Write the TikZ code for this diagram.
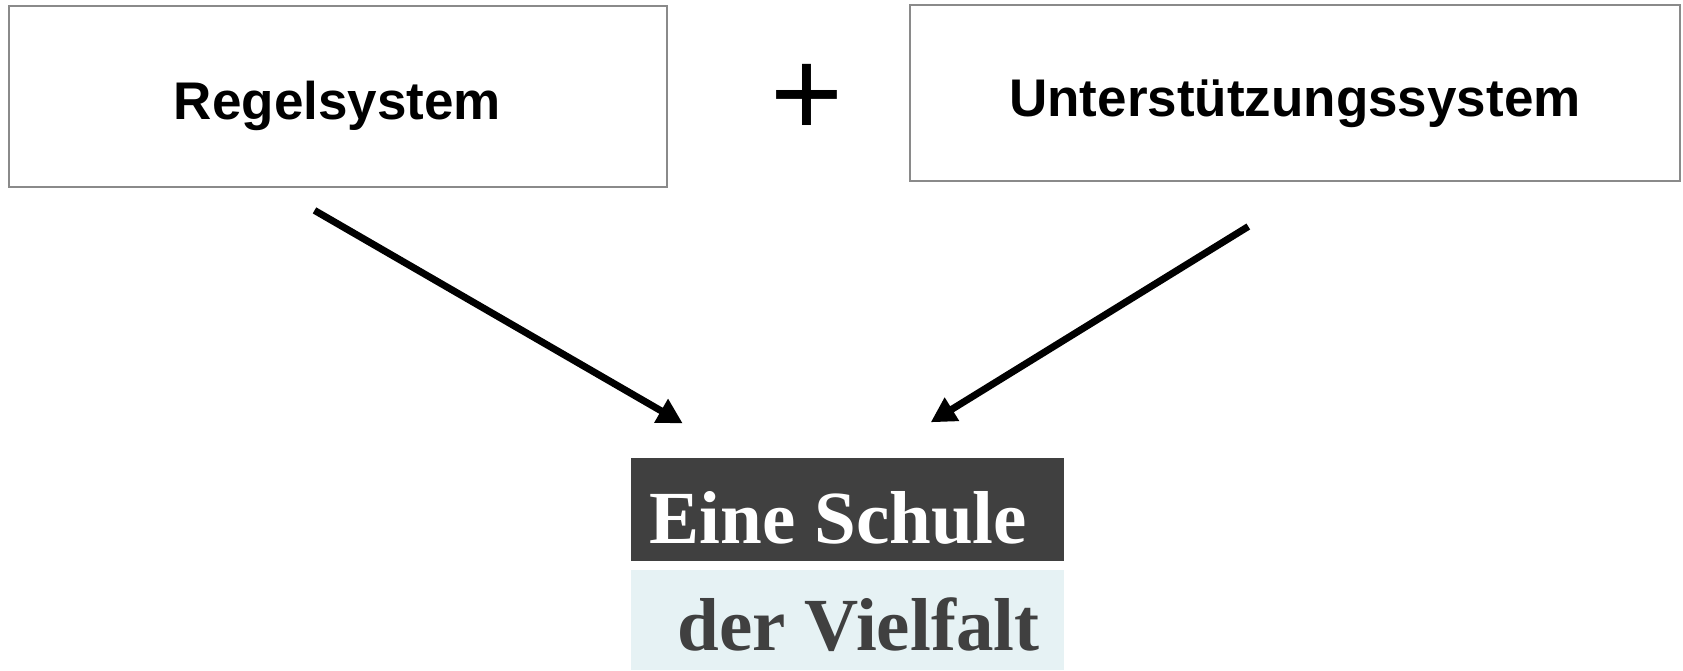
\documentclass[tikz,border=0pt]{standalone}
\usepackage{fontspec}
\setmainfont{Liberation Serif}
\newfontfamily\arialf{Liberation Sans}
\usetikzlibrary{arrows.meta}
\definecolor{boxgray}{HTML}{8A8A8A}
\definecolor{darkbox}{HTML}{404040}
\definecolor{lightbox}{HTML}{E6F2F4}
\begin{document}
\begin{tikzpicture}[x=1pt,y=-1pt,
  sysbox/.style={draw=boxgray, line width=2pt, fill=white, inner sep=0pt,
    font=\arialf\bfseries\fontsize{53}{60}\selectfont, text height=46pt, text depth=0pt},
  bigarrow/.style={line width=7pt, -{Triangle[length=25pt,width=26pt]}},
  serifbig/.style={inner sep=0pt, font=\bfseries\fontsize{75}{80}\selectfont}]
\useasboundingbox (0,0) rectangle (1683,670);
\fill[white] (0,0) rectangle (1683,670);
\node[sysbox, minimum width=658pt, minimum height=180.4pt] (regel) at (337.5,96.6) {Regelsystem};
\node[sysbox, minimum width=770pt, minimum height=176pt] (unter) at (1295,93.4) {Unterstützungssystem};
\node[inner sep=0pt, font=\arialf\fontsize{125}{130}\selectfont] (plus) at (807,100.4) {+};
\node[fill=darkbox, inner sep=0pt, minimum width=432.5pt, minimum height=103pt] (top) at (847.35,509.8) {};
\node[fill=lightbox, inner sep=0pt, minimum width=432.5pt, minimum height=100.1pt] (bot) at (847.35,620) {};
\node[serifbig, text=white, anchor=base west] (t1) at (649.5,543) {Eine Schule};
\node[serifbig, text=darkbox, anchor=base west] (t2) at (677.5,650.4) {der Vielfalt};
\coordinate (a1s) at (314.5,210.4);
\coordinate (a1e) at (682.7,423.3);
\coordinate (a2s) at (1248.3,226.5);
\coordinate (a2e) at (930.7,422.3);
\draw[bigarrow] (a1s) -- (a1e);
\draw[bigarrow] (a2s) -- (a2e);
\end{tikzpicture}
\end{document}
